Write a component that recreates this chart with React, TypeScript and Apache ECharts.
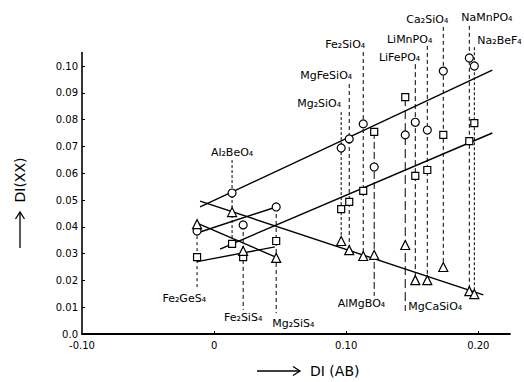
import React, { useEffect, useRef } from 'react';
import * as echarts from 'echarts';

// ---- data ----
const compounds = ['Fe₂GeS₄', 'Al₂BeO₄', 'Fe₂SiS₄', 'Mg₂SiS₄', 'Mg₂SiO₄', 'MgFeSiO₄', 'Fe₂SiO₄', 'AlMgBO₄', 'MgCaSiO₄', 'LiFePO₄', 'LiMnPO₄', 'Ca₂SiO₄', 'NaMnPO₄', 'Na₂BeF₄'];
const diAB = [-0.0129, 0.0136, 0.022, 0.047, 0.0962, 0.1023, 0.1129, 0.1212, 0.1447, 0.1523, 0.1614, 0.1735, 0.1932, 0.197];
const circleVals = [0.0384, 0.0526, 0.0407, 0.0474, 0.0694, 0.0728, 0.0784, 0.0623, 0.0743, 0.079, 0.0761, 0.0981, 0.103, 0.1];
const squareVals = [0.0287, 0.0336, 0.0287, 0.0347, 0.0466, 0.0493, 0.0534, 0.0754, 0.0884, 0.059, 0.0612, 0.0743, 0.072, 0.0787];
const triangleVals = [0.041, 0.0455, 0.031, 0.0284, 0.0347, 0.0313, 0.0291, 0.0295, 0.0332, 0.0201, 0.0201, 0.025, 0.016, 0.0149];
// extent of each vertical guide line (DI(XX) units)
const guideTop = [0.041, 0.0649, 0.0407, 0.0474, 0.0828, 0.0933, 0.1052, 0.0754, 0.0884, 0.1007, 0.1075, 0.1146, 0.115, 0.107];
const guideBottom = [0.0164, 0.0336, 0.009, 0.0078, 0.0347, 0.0313, 0.0291, 0.0142, 0.0086, 0.0201, 0.0201, 0.025, 0.016, 0.0149];

// fitted lines [x, y] end points
const circleFit = [[-0.0106, 0.0474], [0.2106, 0.0985]];
const squareFit = [[0.0045, 0.0317], [0.2106, 0.075]];
const triangleFit = [[-0.0106, 0.0496], [0.2038, 0.0146]];
const sulfideCircleFit = [[-0.0129, 0.0377], [0.047, 0.0474]];
const sulfideSquareFit = [[-0.0129, 0.027], [0.046, 0.0325]];
const sulfideTriangleFit = [[-0.0129, 0.0414], [0.048, 0.0284]];

const xTicks = [-0.1, 0, 0.1, 0.2];
const xTickLabels = ['-0.10', '0', '0.10', '0.20'];
const yTicks = [0, 0.01, 0.02, 0.03, 0.04, 0.05, 0.06, 0.07, 0.08, 0.09, 0.1];
const yTickLabels = ['0.0', '0.01', '0.02', '0.03', '0.04', '0.05', '0.06', '0.07', '0.08', '0.09', '0.10'];

// ---- layout / style of compound labels ----
type Lay = { side: 'top' | 'bottom'; align: 'left' | 'right' | 'center'; dx: number; dy: number; dash: number[] };
const labelLayout: Lay[] = [
  { side: 'bottom', align: 'right', dx: 9, dy: 8, dash: [3, 3] },
  { side: 'top', align: 'center', dx: 0, dy: -8, dash: [3, 2] },
  { side: 'bottom', align: 'center', dx: 0, dy: 8, dash: [4, 3] },
  { side: 'bottom', align: 'left', dx: -4, dy: 10, dash: [4, 3] },
  { side: 'top', align: 'right', dx: 0, dy: -9, dash: [3, 2] },
  { side: 'top', align: 'right', dx: 3, dy: -8, dash: [4, 3] },
  { side: 'top', align: 'right', dx: 2, dy: -8, dash: [4, 3] },
  { side: 'bottom', align: 'right', dx: 11, dy: 8, dash: [7, 3] },
  { side: 'bottom', align: 'left', dx: 3, dy: -4, dash: [9, 4] },
  { side: 'top', align: 'right', dx: 5, dy: -7, dash: [5, 3] },
  { side: 'top', align: 'right', dx: 5, dy: -6, dash: [4, 3] },
  { side: 'top', align: 'right', dx: 5, dy: -7, dash: [4, 3] },
  { side: 'top', align: 'left', dx: -8, dy: -8, dash: [4, 3] },
  { side: 'top', align: 'left', dx: 3, dy: -7, dash: [3, 2] },
];

const FONT = 'DejaVu Sans';

function tickLabel(ticks: number[], labels: string[]) {
  return (v: number) => {
    for (let i = 0; i < ticks.length; i++) if (Math.abs(ticks[i] - v) < 1e-9) return labels[i];
    return '';
  };
}

export default function App() {
  const ref = useRef<HTMLDivElement>(null);
  useEffect(() => {
    if (!ref.current) return;
    const chart = echarts.init(ref.current, undefined, { renderer: 'svg' });

    const guides = compounds.map((c, i) => ({
      type: 'line',
      name: 'guide-' + i,
      data: [[diAB[i], guideTop[i]], [diAB[i], guideBottom[i]]],
      symbol: 'none',
      clip: false,
      silent: true,
      z: 1,
      lineStyle: { color: '#000', width: 1, type: labelLayout[i].dash },
    }));

    const fit = (name: string, d: number[][]) => ({
      type: 'line',
      name,
      data: d,
      symbol: 'none',
      clip: false,
      silent: true,
      z: 2,
      lineStyle: { color: '#000', width: 1.4 },
    });

    const marker = (name: string, symbol: string, size: number, vals: number[]) => ({
      type: 'scatter',
      name,
      symbol,
      symbolSize: size,
      clip: false,
      z: 3,
      itemStyle: { color: '#fff', borderColor: '#000', borderWidth: 1.2, opacity: 1 },
      data: vals.map((v, i) => [diAB[i], v]),
    });

    const labels = {
      type: 'scatter',
      name: 'labels',
      symbolSize: 0.1,
      clip: false,
      silent: true,
      z: 4,
      itemStyle: { color: 'transparent', opacity: 1 },
      data: compounds.map((c, i) => {
        const L = labelLayout[i];
        return {
          name: c,
          value: [diAB[i], L.side === 'top' ? guideTop[i] : guideBottom[i]],
          label: {
            show: true,
            position: 'inside',
            formatter: c,
            align: L.align,
            verticalAlign: 'middle',
            offset: [L.dx, L.dy],
            color: '#000',
            opacity: 1,
            textBorderWidth: 0,
            textBorderColor: 'transparent',
            fontFamily: FONT,
            fontSize: 11,
          },
        };
      }),
    };

    chart.setOption({
      animation: false,
      backgroundColor: '#fff',
      grid: { left: 82, right: 14, top: 52.6, bottom: 48 },
      xAxis: {
        type: 'value',
        min: -0.1,
        max: 0.224,
        splitLine: { show: false },
        axisLine: { onZero: false, lineStyle: { color: '#000', width: 1.8 } },
        axisTick: { inside: true, length: 3, customValues: xTicks.slice(1), lineStyle: { color: '#000', width: 1 } },
        axisLabel: {
          customValues: xTicks,
          formatter: tickLabel(xTicks, xTickLabels),
          color: '#000',
          fontFamily: FONT,
          fontSize: 10,
          margin: 6,
        },
      },
      yAxis: {
        type: 'value',
        min: 0,
        max: 0.105,
        splitLine: { show: false },
        axisLine: { onZero: false, lineStyle: { color: '#000', width: 1.6 } },
        axisTick: { inside: true, length: 3, customValues: yTicks.slice(1), lineStyle: { color: '#000', width: 1 } },
        axisLabel: {
          customValues: yTicks,
          formatter: tickLabel(yTicks, yTickLabels),
          color: '#000',
          fontFamily: FONT,
          fontSize: 10,
          margin: 4,
        },
      },
      graphic: [
        {
          type: 'text',
          x: 20,
          y: 180,
          rotation: Math.PI / 2,
          style: { text: 'DI(XX)', fontFamily: FONT, fontSize: 14, fill: '#000', align: 'center', verticalAlign: 'middle' },
        },
        { type: 'line', shape: { x1: 20, y1: 248, x2: 20, y2: 212 }, style: { stroke: '#000', lineWidth: 1.3 } },
        { type: 'polyline', shape: { points: [[15.5, 219], [20, 212], [24.5, 219]] }, style: { stroke: '#000', lineWidth: 1.3, fill: null } },
        {
          type: 'text',
          x: 310,
          y: 371,
          style: { text: 'DI (AB)', fontFamily: FONT, fontSize: 14, fill: '#000', align: 'left', verticalAlign: 'middle' },
        },
        { type: 'line', shape: { x1: 257, y1: 371, x2: 300, y2: 371 }, style: { stroke: '#000', lineWidth: 1.3 } },
        { type: 'polyline', shape: { points: [[293, 366.5], [300, 371], [293, 375.5]] }, style: { stroke: '#000', lineWidth: 1.3, fill: null } },
      ],
      series: [
        ...guides,
        fit('fit-circle', circleFit),
        fit('fit-square', squareFit),
        fit('fit-triangle', triangleFit),
        fit('fit-sulfide-circle', sulfideCircleFit),
        fit('fit-sulfide-square', sulfideSquareFit),
        fit('fit-sulfide-triangle', sulfideTriangleFit),
        marker('circle', 'circle', 8, circleVals),
        marker('square', 'rect', 7, squareVals),
        marker('triangle', 'triangle', 9, triangleVals),
        labels,
      ],
    });
    return () => chart.dispose();
  }, []);
  return <div ref={ref} style={{ position: 'fixed', left: 0, top: 0, width: 524, height: 382, background: '#fff' }} />;
}
